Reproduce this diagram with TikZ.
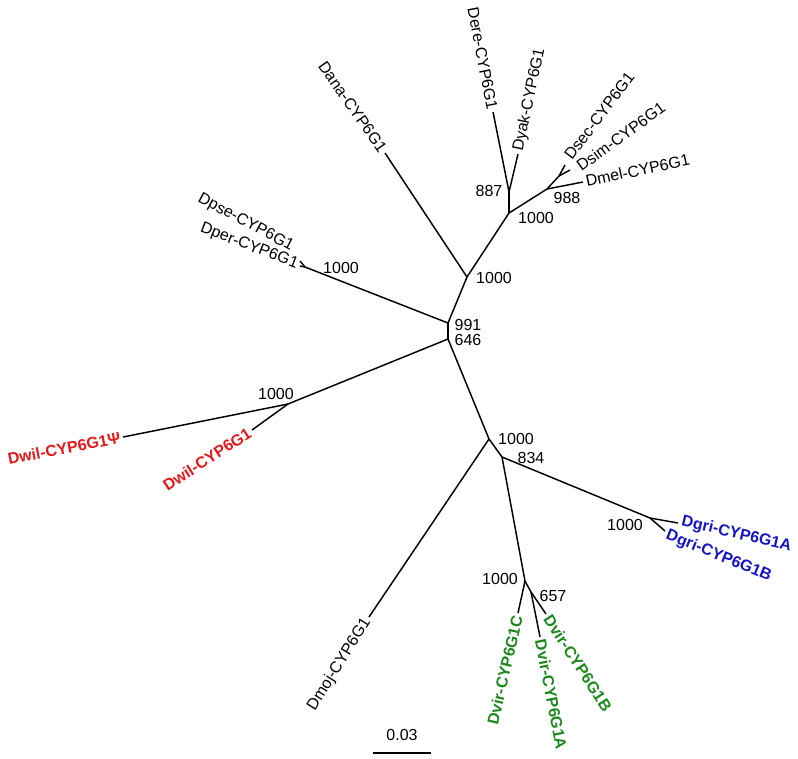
\documentclass[tikz,border=0pt]{standalone}
\usepackage{fontspec}
\setmainfont{Liberation Sans}
\definecolor{wilred}{RGB}{225,25,25}
\definecolor{griblue}{RGB}{20,20,195}
\definecolor{virgreen}{RGB}{30,135,30}
\begin{document}
\begin{tikzpicture}[x=0.75pt,y=-0.75pt,
  br/.style={line width=1.1pt},
  txt/.style={font=\fontsize{12}{14}\selectfont},
  tipl/.style={txt, inner sep=2pt},
  bs/.style={txt, inner sep=0pt},
  redl/.style={tipl, text=wilred, font=\fontsize{12}{14}\selectfont\bfseries},
  bluel/.style={tipl, text=griblue, font=\fontsize{12}{14}\selectfont\bfseries},
  greenl/.style={tipl, text=virgreen, font=\fontsize{12}{14}\selectfont\bfseries}]
\useasboundingbox (0,0) rectangle (798,758);
% internal nodes
\coordinate (A) at (448,323);
\coordinate (B) at (448,339);
\coordinate (C) at (467,277);
\coordinate (D) at (509,213);
\coordinate (E) at (509,192);
\coordinate (F) at (547,189);
\coordinate (G) at (559,176);
\coordinate (H) at (305,267);
\coordinate (I) at (288,404);
\coordinate (J) at (489,439);
\coordinate (K) at (502,457);
\coordinate (L) at (650,518);
\coordinate (M) at (525,581);
\coordinate (N) at (531,592);
% tips
\coordinate (tDere) at (493,112);
\coordinate (tDyak) at (518,154);
\coordinate (tDsec) at (565,165);
\coordinate (tDsim) at (570,170);
\coordinate (tDmel) at (583,182);
\coordinate (tDana) at (385,153);
\coordinate (tDpse) at (300,261);
\coordinate (tDper) at (300,266);
\coordinate (tWilPsi) at (123,437);
\coordinate (tWil) at (252,430);
\coordinate (tMoj) at (369,617);
\coordinate (tGriA) at (678,523);
\coordinate (tGriB) at (665,531);
\coordinate (tVirC) at (518,613);
\coordinate (tVirA) at (540,637);
\coordinate (tVirB) at (546,614);
\coordinate (sb1) at (373,753);
\coordinate (sb2) at (431,753);
% label anchor points (labels set apart from crowded tips)
\coordinate (pDsec) at (566,160);
\coordinate (pDsim) at (576,169);
\coordinate (pDpse) at (295,249);
\coordinate (pGriA) at (679,521);
\coordinate (pGriB) at (664,534);
% branches
\draw[br] (A) -- (B);
\draw[br] (A) -- (C);
\draw[br] (C) -- (D);
\draw[br] (D) -- (E);
\draw[br] (E) -- (tDere);
\draw[br] (E) -- (tDyak);
\draw[br] (D) -- (F);
\draw[br] (F) -- (G);
\draw[br] (G) -- (tDsec);
\draw[br] (G) -- (tDsim);
\draw[br] (F) -- (tDmel);
\draw[br] (C) -- (tDana);
\draw[br] (A) -- (H);
\draw[br] (H) -- (tDpse);
\draw[br] (H) -- (tDper);
\draw[br] (B) -- (I);
\draw[br] (I) -- (tWilPsi);
\draw[br] (I) -- (tWil);
\draw[br] (B) -- (J);
\draw[br] (J) -- (tMoj);
\draw[br] (J) -- (K);
\draw[br] (K) -- (L);
\draw[br] (L) -- (tGriA);
\draw[br] (L) -- (tGriB);
\draw[br] (K) -- (M);
\draw[br] (M) -- (tVirC);
\draw[br] (M) -- (N);
\draw[br] (N) -- (tVirA);
\draw[br] (N) -- (tVirB);
\draw[br] (sb1) -- (sb2);
% tip labels
\node[tipl, anchor=east, rotate=-79] (lDere) at (tDere) {Dere-CYP6G1};
\node[tipl, anchor=west, rotate=78] (lDyak) at (tDyak) {Dyak-CYP6G1};
\node[tipl, anchor=west, rotate=53] (lDsec) at (pDsec) {Dsec-CYP6G1};
\node[tipl, anchor=west, rotate=36] (lDsim) at (pDsim) {Dsim-CYP6G1};
\node[tipl, anchor=west, rotate=12] (lDmel) at (tDmel) {Dmel-CYP6G1};
\node[tipl, anchor=east, rotate=-55] (lDana) at (tDana) {Dana-CYP6G1};
\node[tipl, anchor=east, rotate=-28] (lDpse) at (pDpse) {Dpse-CYP6G1};
\node[tipl, anchor=east, rotate=-21] (lDper) at (tDper) {Dper-CYP6G1};
\node[redl, anchor=east, rotate=11] (lWilPsi) at (tWilPsi) {Dwil-CYP6G1Ψ};
\node[redl, anchor=east, rotate=33] (lWil) at (tWil) {Dwil-CYP6G1};
\node[tipl, anchor=east, rotate=58] (lMoj) at (tMoj) {Dmoj-CYP6G1};
\node[bluel, anchor=west, rotate=-13] (lGriA) at (pGriA) {Dgri-CYP6G1A};
\node[bluel, anchor=west, rotate=-22] (lGriB) at (pGriB) {Dgri-CYP6G1B};
\node[greenl, anchor=east, rotate=77] (lVirC) at (tVirC) {Dvir-CYP6G1C};
\node[greenl, anchor=west, rotate=-79] (lVirA) at (tVirA) {Dvir-CYP6G1A};
\node[greenl, anchor=west, rotate=-57] (lVirB) at (tVirB) {Dvir-CYP6G1B};
% bootstrap values
\node[bs] (b991) at (468,325) {991};
\node[bs] (b646) at (468,340) {646};
\node[bs] (bC) at (494,278) {1000};
\node[bs] (bD) at (536,218) {1000};
\node[bs] (b887) at (489,191) {887};
\node[bs] (b988) at (567,198) {988};
\node[bs] (bH) at (341,268) {1000};
\node[bs] (bI) at (276,394) {1000};
\node[bs] (bJ) at (516,439) {1000};
\node[bs] (b834) at (531,458) {834};
\node[bs] (bL) at (625,525) {1000};
\node[bs] (bM) at (500,579) {1000};
\node[bs] (b657) at (553,596) {657};
\node[bs] (scale) at (402,735) {0.03};
\end{tikzpicture}
\end{document}
